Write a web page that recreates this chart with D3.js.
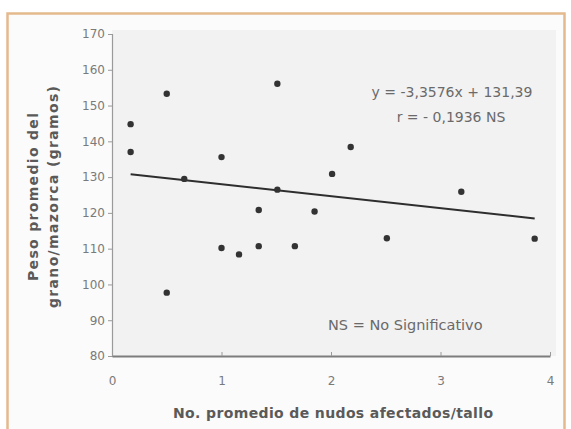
<!DOCTYPE html>
<html>
<head>
<meta charset="utf-8">
<script src="https://cdn.jsdelivr.net/npm/d3@7"></script>
<style>
  html, body { margin: 0; padding: 0; background: #ffffff; }
  svg { display: block; }
  text { font-family: "DejaVu Sans", "Liberation Sans", Arial, sans-serif; }
</style>
</head>
<body>
<svg id="chart" width="571" height="429"></svg>
<script>
// Average number of affected nodes per stalk (x) and average grain weight per ear (y)
const nudos = [0.17, 0.17, 0.50, 0.50, 0.66, 1.00, 1.00, 1.16, 1.34, 1.34,
               1.51, 1.51, 1.67, 1.85, 2.01, 2.18, 2.51, 3.19, 3.86];
const peso  = [144.8, 137.0, 153.3, 97.7, 129.5, 135.6, 110.2, 108.4, 120.8, 110.7,
               156.1, 126.5, 110.7, 120.4, 130.9, 138.4, 112.9, 125.9, 112.8];

// Fitted linear regression
const pendiente = -3.3576;
const intercepto = 131.39;
const ecuacion = "y = -3,3576x + 131,39";
const correlacion = "r = - 0,1936 NS";
const nota = "NS = No Significativo";

const xTicks = [0, 1, 2, 3, 4];
const yTicks = [80, 90, 100, 110, 120, 130, 140, 150, 160, 170];

const tituloX = "No. promedio de nudos afectados/tallo";
const tituloY = ["Peso promedio del", "grano/mazorca (gramos)"];

const svg = d3.select("#chart");

const x = d3.scaleLinear().domain([0, 4]).range([112, 550]);
const y = d3.scaleLinear().domain([80, 170]).range([356, 34]);

const defs = svg.append("defs");
defs.append("filter").attr("id", "soft")
  .append("feGaussianBlur").attr("stdDeviation", 0.7);

// page panel with tan frame
svg.append("rect").attr("x", 0).attr("y", 0).attr("width", 571).attr("height", 429)
  .attr("fill", "#ffffff");
svg.append("rect")
  .attr("x", 7.5).attr("y", 13.5).attr("width", 557).attr("height", 430)
  .attr("fill", "#fbfbfb")
  .attr("stroke", "#e4b98c").attr("stroke-width", 2.5)
  .attr("filter", "url(#soft)");

// plot area
svg.append("rect")
  .attr("x", x(0)).attr("y", 30)
  .attr("width", 556 - x(0)).attr("height", y(80) - 30)
  .attr("fill", "#f2f2f2");

// y axis
const yAxis = svg.append("g")
  .attr("transform", `translate(${x(0)},0)`)
  .call(d3.axisLeft(y).tickValues(yTicks).tickSize(4).tickPadding(3));
yAxis.select(".domain").attr("stroke", "#9a9a9a").attr("stroke-width", 1.2);
yAxis.selectAll(".tick line").attr("stroke", "#9a9a9a");
yAxis.selectAll(".tick text")
  .attr("fill", "#7a7a7a").style("font-size", "12px");

// x axis
const xAxis = svg.append("g")
  .attr("transform", `translate(0,${y(80)})`)
  .call(d3.axisBottom(x).tickValues(xTicks).tickFormat(d3.format("d"))
    .tickSizeInner(-4).tickSizeOuter(0).tickPadding(20));
xAxis.select(".domain").attr("stroke", "#7d7d7d").attr("stroke-width", 2);
xAxis.selectAll(".tick line").attr("stroke", "#9a9a9a");
xAxis.selectAll(".tick text")
  .attr("fill", "#7a7a7a").style("font-size", "12px");

// regression line across the observed range
const xMin = d3.min(nudos), xMax = d3.max(nudos);
svg.append("line")
  .attr("x1", x(xMin)).attr("y1", y(pendiente * xMin + intercepto))
  .attr("x2", x(xMax)).attr("y2", y(pendiente * xMax + intercepto))
  .attr("stroke", "#2e2e2e").attr("stroke-width", 2);

// observations
svg.append("g").selectAll("circle")
  .data(d3.zip(nudos, peso))
  .join("circle")
  .attr("cx", d => x(d[0]))
  .attr("cy", d => y(d[1]))
  .attr("r", 3.2)
  .attr("fill", "#333333");

// regression annotations
svg.append("text").attr("x", 452).attr("y", 97)
  .attr("text-anchor", "middle").attr("fill", "#6a6a6a")
  .style("font-size", "14px").text(ecuacion);
svg.append("text").attr("x", 451).attr("y", 121.5)
  .attr("text-anchor", "middle").attr("fill", "#6a6a6a")
  .style("font-size", "14px").text(correlacion);
svg.append("text").attr("x", 328).attr("y", 330)
  .attr("fill", "#6a6a6a")
  .style("font-size", "14.5px").text(nota);

// axis titles
svg.append("text").attr("x", 333).attr("y", 418)
  .attr("text-anchor", "middle").attr("fill", "#5a5a5a")
  .attr("textLength", 320).attr("lengthAdjust", "spacing")
  .style("font-size", "14px").style("font-weight", "bold")
  .text(tituloX);

const largosY = [168, 222];
svg.append("g").selectAll("text")
  .data(tituloY)
  .join("text")
  .attr("transform", (d, i) => `translate(${38 + i * 20},197) rotate(-90)`)
  .attr("text-anchor", "middle").attr("fill", "#5a5a5a")
  .attr("textLength", (d, i) => largosY[i]).attr("lengthAdjust", "spacing")
  .style("font-size", "14px").style("font-weight", "bold")
  .text(d => d);
</script>
</body>
</html>
